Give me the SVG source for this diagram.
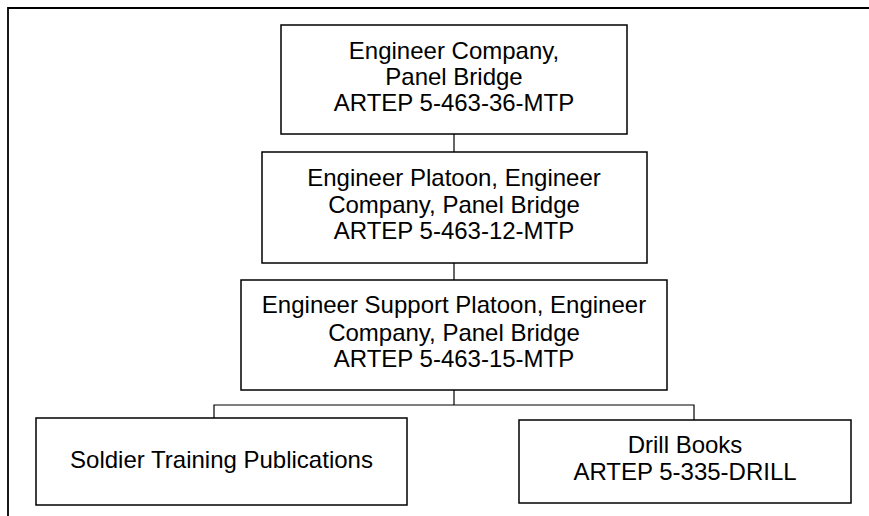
<svg xmlns="http://www.w3.org/2000/svg" width="869" height="516" viewBox="0 0 869 516">
<style>
  .box { fill: #ffffff; stroke: #000000; stroke-width: 1.5; }
  .lbl { font-family: "Liberation Sans", Arial, sans-serif; font-size: 24px; fill: #000000; text-anchor: middle; }
  .conn { fill: none; stroke: #000000; stroke-width: 1.2; }
  .frame { fill: none; stroke: #000000; stroke-width: 1.8; }
</style>
<rect width="869" height="516" fill="#ffffff"/>
<g id="frame">
  <path class="frame" d="M8,516 V8 H869"/>
</g>
<g id="connectors">
  <path class="conn" d="M454,134 V152"/>
  <path class="conn" d="M454,263 V280"/>
  <path class="conn" d="M454,390 V405"/>
  <path class="conn" d="M214,418 V405 H694 V420"/>
</g>
<g id="node-company">
  <rect class="box" x="281" y="25" width="346" height="109"/>
  <text class="lbl" x="454" y="59">Engineer Company,</text>
  <text class="lbl" x="454" y="85">Panel Bridge</text>
  <text class="lbl" x="454" y="111">ARTEP 5-463-36-MTP</text>
</g>
<g id="node-platoon">
  <rect class="box" x="262" y="152" width="385" height="111"/>
  <text class="lbl" x="454" y="186">Engineer Platoon, Engineer</text>
  <text class="lbl" x="454" y="213">Company, Panel Bridge</text>
  <text class="lbl" x="454" y="239">ARTEP 5-463-12-MTP</text>
</g>
<g id="node-support">
  <rect class="box" x="241" y="280" width="426" height="110"/>
  <text class="lbl" x="454" y="313">Engineer Support Platoon, Engineer</text>
  <text class="lbl" x="454" y="341">Company, Panel Bridge</text>
  <text class="lbl" x="454" y="367">ARTEP 5-463-15-MTP</text>
</g>
<g id="node-stp">
  <rect class="box" x="36" y="418" width="371" height="87"/>
  <text class="lbl" x="221.5" y="468">Soldier Training Publications</text>
</g>
<g id="node-drill">
  <rect class="box" x="519" y="420" width="332" height="83"/>
  <text class="lbl" x="685" y="453">Drill Books</text>
  <text class="lbl" x="685" y="480">ARTEP 5-335-DRILL</text>
</g>
</svg>
